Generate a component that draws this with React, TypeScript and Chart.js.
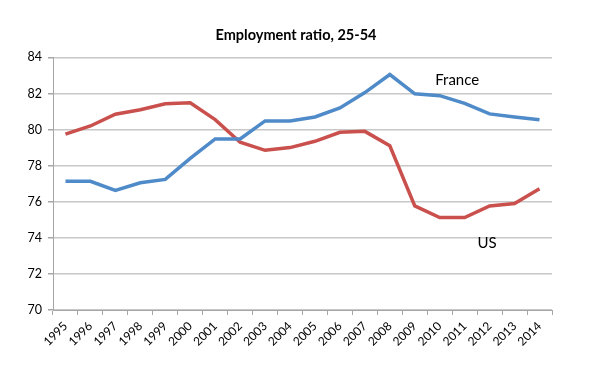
import React, { useEffect, useRef } from "react";
import { Chart, registerables } from "chart.js";

Chart.register(...registerables);

const years = ["1995","1996","1997","1998","1999","2000","2001","2002","2003","2004","2005","2006","2007","2008","2009","2010","2011","2012","2013","2014"];
const france = [77.13,77.13,76.63,77.05,77.24,78.4,79.48,79.48,80.48,80.48,80.7,81.2,82.05,83.05,81.98,81.88,81.45,80.87,80.7,80.55];
const us = [79.75,80.2,80.85,81.1,81.43,81.48,80.55,79.3,78.85,79.0,79.35,79.85,79.9,79.1,75.77,75.12,75.12,75.77,75.9,76.72];
const yTicks = [70,72,74,76,78,80,82,84];

const seriesLabels = [
  { text: "France", position: 15.7, value: 82.75 },
  { text: "US", position: 16.9, value: 73.7 },
];

const FONT = "Lato, 'Open Sans', sans-serif";

const labelPlugin = {
  id: "seriesLabels",
  afterDatasetsDraw(chart: any) {
    const ctx = chart.ctx;
    const xs = chart.scales.x;
    const ys = chart.scales.y;
    ctx.save();
    ctx.fillStyle = "#000";
    ctx.font = `15px ${FONT}`;
    ctx.textAlign = "center";
    ctx.textBaseline = "middle";
    seriesLabels.forEach((l) => {
      ctx.fillText(l.text, xs.getPixelForValue(l.position), ys.getPixelForValue(l.value));
    });
    ctx.restore();
  },
};

export default function App() {
  const ref = useRef<HTMLCanvasElement>(null);
  useEffect(() => {
    document.body.style.margin = "0";
    const chart = new Chart(ref.current!, {
      type: "line",
      data: {
        labels: years,
        datasets: [
          { label: "France", data: france, borderColor: "#4F8AC9", backgroundColor: "#4F8AC9", borderWidth: 3.5, pointRadius: 0, tension: 0 },
          { label: "US", data: us, borderColor: "#C9504C", backgroundColor: "#C9504C", borderWidth: 3.5, pointRadius: 0, tension: 0 },
        ],
      },
      options: {
        animation: false,
        responsive: false,
        layout: { padding: 0 },
        plugins: {
          legend: { display: false },
          tooltip: { enabled: false },
          title: {
            display: true,
            text: "Employment ratio, 25-54",
            color: "#000",
            font: { family: FONT, size: 14.5, weight: "bold" },
            padding: { top: 27, bottom: 13 },
          },
        },
        scales: {
          x: {
            offset: true,
            grid: { offset: true, drawOnChartArea: false, drawTicks: true, tickLength: 5, color: "#A6A6A6" },
            border: { color: "#A6A6A6", width: 1 },
            ticks: { color: "#000", font: { family: FONT, size: 12 }, maxRotation: 45, minRotation: 45, autoSkip: false, padding: 4 },
            afterFit: (s: any) => { s.height = 73; },
          },
          y: {
            min: 70,
            max: 84,
            afterBuildTicks: (s: any) => { s.ticks = yTicks.map((v) => ({ value: v })); },
            grid: { color: "#C8C8C8", lineWidth: 1.5, tickLength: 5, tickColor: "#A6A6A6" },
            border: { color: "#A6A6A6", width: 1 },
            ticks: { color: "#000", font: { family: FONT, size: 12.5 }, padding: 6 },
            afterFit: (s: any) => { s.width = 53; },
          },
          yRight: {
            position: "right",
            min: 70,
            max: 84,
            grid: { drawOnChartArea: false, drawTicks: false },
            border: { display: false },
            ticks: { display: false },
            afterFit: (s: any) => { s.width = 40; },
          },
        },
      },
      plugins: [labelPlugin],
    });
    return () => chart.destroy();
  }, []);
  return (
    <div style={{ width: 592, height: 383 }}>
      <canvas ref={ref} width={592} height={383} />
    </div>
  );
}
